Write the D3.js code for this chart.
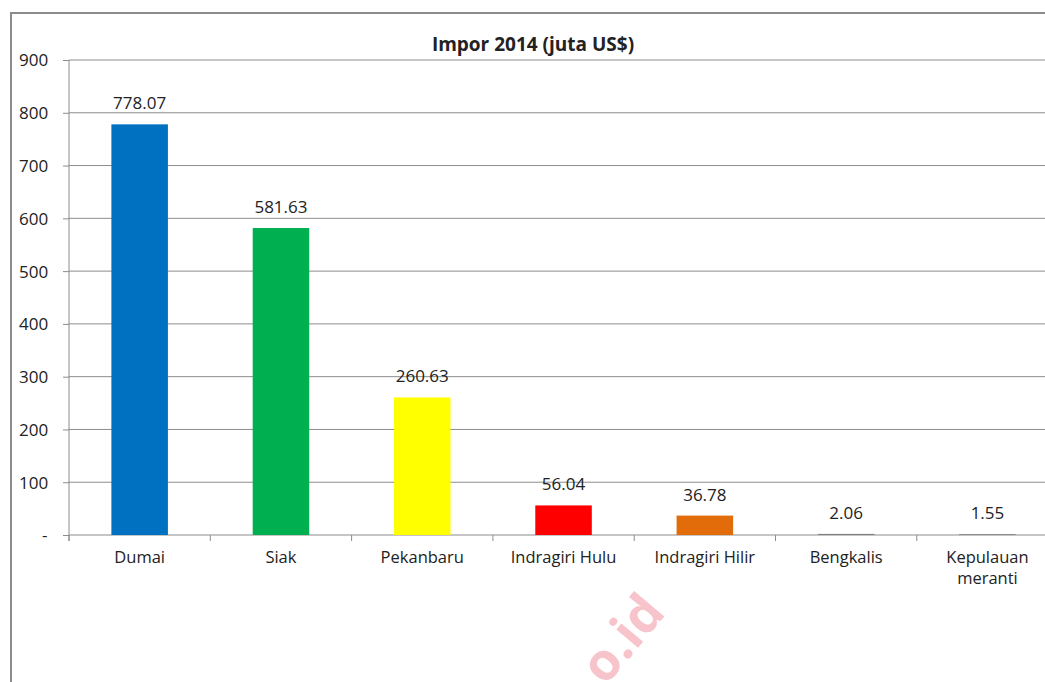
<!DOCTYPE html>
<html>
<head>
<meta charset="utf-8">
<script src="https://cdn.jsdelivr.net/npm/d3@7"></script>
<style>
  body { margin: 0; background: #fff; }
  text { font-family: "Open Sans", "DejaVu Sans", sans-serif; fill: #222; }
</style>
</head>
<body>
<svg class="chart"></svg>
<script>
// data
var regions = ["Dumai", "Siak", "Pekanbaru", "Indragiri Hulu", "Indragiri Hilir", "Bengkalis", "Kepulauan meranti"];
var imports = [778.07, 581.63, 260.63, 56.04, 36.78, 2.06, 1.55];
var colors = ["#0070c0", "#00b050", "#ffff00", "#ff0000", "#e36c0a", "#7f7f7f", "#7f7f7f"];
var yTicks = [0, 100, 200, 300, 400, 500, 600, 700, 800, 900];

var W = 1045, H = 682;
var plotLeft = 69, plotTop = 60, plotBottom = 535;
var plotRight = plotLeft + 7 * 141.3;

var svg = d3.select(".chart")
    .attr("width", W)
    .attr("height", H);

// outer chart frame
svg.append("rect")
    .attr("x", 11)
    .attr("y", 13)
    .attr("width", W + 20)
    .attr("height", H + 20)
    .attr("fill", "none")
    .attr("stroke", "#8c8c8c")
    .attr("stroke-width", 2);

var x = d3.scaleBand()
    .domain(regions)
    .range([plotLeft, plotRight])
    .paddingInner(0.6)
    .paddingOuter(0.3);

var y = d3.scaleLinear()
    .domain([0, 900])
    .range([plotBottom, plotTop]);

// gridlines
svg.append("g")
    .selectAll("line")
    .data(yTicks.filter(d => d > 0))
    .join("line")
    .attr("x1", plotLeft)
    .attr("x2", plotRight)
    .attr("y1", d => y(d))
    .attr("y2", d => y(d))
    .attr("stroke", "#8c8c8c")
    .attr("stroke-width", 1);

// y axis
var yAxis = svg.append("g")
    .attr("transform", `translate(${plotLeft},0)`)
    .call(d3.axisLeft(y).tickValues(yTicks).tickSize(6).tickPadding(10)
      .tickFormat(d => d === 0 ? "-" : d));
yAxis.select(".domain").attr("stroke", "#8c8c8c").attr("d", `M0,${plotTop}V${plotBottom + 6}`);
yAxis.selectAll(".tick line").attr("stroke", "#8c8c8c");
yAxis.selectAll(".tick text")
    .attr("font-size", 17)
    .attr("fill", "#222")
    .attr("text-anchor", "start")
    .attr("x", -50)
    .attr("dy", "0.35em");
yAxis.selectAll(".tick text").filter(d => d === 0).attr("x", -27);

// x axis line and ticks between categories
var xg = svg.append("g");
xg.append("line")
    .attr("x1", plotLeft)
    .attr("x2", plotRight)
    .attr("y1", plotBottom)
    .attr("y2", plotBottom)
    .attr("stroke", "#8c8c8c");
xg.selectAll(".sep")
    .data(d3.range(regions.length + 1))
    .join("line")
    .attr("class", "sep")
    .attr("x1", i => plotLeft + i * x.step())
    .attr("x2", i => plotLeft + i * x.step())
    .attr("y1", plotBottom)
    .attr("y2", plotBottom + 6)
    .attr("stroke", "#8c8c8c");

// category labels
xg.selectAll(".cat")
    .data(regions)
    .join("text")
    .attr("class", "cat")
    .attr("text-anchor", "middle")
    .attr("font-size", 16.5)
    .attr("x", d => x(d) + x.bandwidth() / 2)
    .attr("y", 563)
    .each(function(d) {
      var words = d === "Kepulauan meranti" ? ["Kepulauan", "meranti"] : [d];
      d3.select(this).selectAll("tspan")
        .data(words)
        .join("tspan")
        .attr("x", x(d) + x.bandwidth() / 2)
        .attr("dy", (w, i) => i === 0 ? 0 : 21)
        .text(w => w);
    });

// bars
svg.append("g")
    .selectAll("rect")
    .data(regions)
    .join("rect")
    .attr("x", d => x(d))
    .attr("width", x.bandwidth())
    .attr("y", (d, i) => y(imports[i]))
    .attr("height", (d, i) => plotBottom - y(imports[i]))
    .attr("fill", (d, i) => colors[i]);

// value labels
svg.append("g")
    .selectAll("text")
    .data(regions)
    .join("text")
    .attr("text-anchor", "middle")
    .attr("font-size", 17)
    .attr("x", d => x(d) + x.bandwidth() / 2)
    .attr("y", (d, i) => y(imports[i]) - 15)
    .text((d, i) => imports[i].toFixed(2));

// title
svg.append("text")
    .attr("x", 533)
    .attr("y", 51)
    .attr("text-anchor", "middle")
    .attr("font-size", 19)
    .attr("font-weight", "bold")
    .text("Impor 2014 (juta US$)");

// faint watermark
svg.append("text")
    .attr("transform", "translate(636,650) rotate(-50)")
    .attr("font-size", 52)
    .attr("font-weight", "bold")
    .attr("text-anchor", "middle")
    .style("fill", "#f8c4cc")
    .text("o.id");
</script>
</body>
</html>
